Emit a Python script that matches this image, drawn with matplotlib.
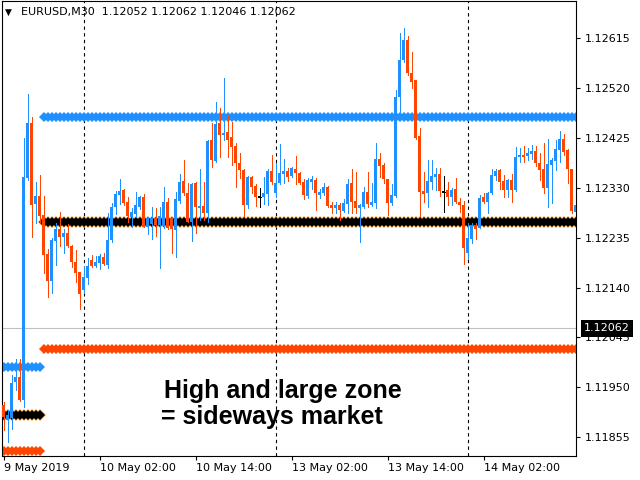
import matplotlib.pyplot as plt
import numpy as np
from matplotlib import transforms

# EURUSD M30 bars, numbered from the 10 May 00:00 bar
first_bar = -20

opens = [
    1.11917, 1.11888, 1.11892, 1.11960, 1.11970, 1.11926, 1.12349, 1.12454, 1.12299, 1.12315, 1.12278, 1.12204,
    1.12153, 1.12229, 1.12252, 1.12236, 1.12244, 1.12219, 1.12189, 1.12170, 1.12136, 1.12158, 1.12193, 1.12181,
    1.12187, 1.12198, 1.12183, 1.12231, 1.12294, 1.12317, 1.12326, 1.12303, 1.12275, 1.12280, 1.12294, 1.12313,
    1.12256, 1.12261, 1.12273, 1.12259, 1.12257, 1.12303, 1.12273, 1.12250, 1.12305, 1.12343, 1.12320, 1.12265,
    1.12339, 1.12292, 1.12296, 1.12282, 1.12421, 1.12381, 1.12454, 1.12431, 1.12437, 1.12427, 1.12410, 1.12377,
    1.12364, 1.12298, 1.12351, 1.12334, 1.12313, 1.12313, 1.12318, 1.12362, 1.12320, 1.12339, 1.12357, 1.12362,
    1.12353, 1.12366, 1.12358, 1.12341, 1.12315, 1.12341, 1.12345, 1.12317, 1.12320, 1.12332, 1.12298, 1.12292,
    1.12298, 1.12286, 1.12299, 1.12339, 1.12305, 1.12292, 1.12294, 1.12322, 1.12298, 1.12301, 1.12385, 1.12374,
    1.12347, 1.12301, 1.12315, 1.12503, 1.12574, 1.12612, 1.12549, 1.12536, 1.12429, 1.12324, 1.12320, 1.12341,
    1.12351, 1.12357, 1.12322, 1.12326, 1.12313, 1.12328, 1.12303, 1.12298, 1.12206, 1.12233, 1.12259, 1.12254,
    1.12313, 1.12303, 1.12320, 1.12353, 1.12364, 1.12343, 1.12326, 1.12345, 1.12326, 1.12389, 1.12393, 1.12391,
    1.12395, 1.12400, 1.12377, 1.12366, 1.12330, 1.12374, 1.12381, 1.12402, 1.12423, 1.12402, 1.12366, 1.12284,
]
highs = [
    1.11922, 1.11907, 1.11974, 1.12004, 1.12004, 1.12425, 1.12509, 1.12465, 1.12341, 1.12355, 1.12315, 1.12214,
    1.12235, 1.12263, 1.12284, 1.12252, 1.12261, 1.12221, 1.12212, 1.12170, 1.12179, 1.12197, 1.12202, 1.12200,
    1.12204, 1.12206, 1.12282, 1.12301, 1.12324, 1.12347, 1.12328, 1.12313, 1.12292, 1.12322, 1.12315, 1.12318,
    1.12275, 1.12294, 1.12292, 1.12294, 1.12332, 1.12311, 1.12275, 1.12322, 1.12357, 1.12383, 1.12339, 1.12339,
    1.12341, 1.12366, 1.12341, 1.12421, 1.12454, 1.12494, 1.12482, 1.12540, 1.12469, 1.12456, 1.12416, 1.12397,
    1.12366, 1.12353, 1.12353, 1.12338, 1.12330, 1.12351, 1.12366, 1.12393, 1.12377, 1.12414, 1.12385, 1.12368,
    1.12370, 1.12391, 1.12360, 1.12347, 1.12349, 1.12353, 1.12349, 1.12328, 1.12339, 1.12334, 1.12303, 1.12303,
    1.12301, 1.12309, 1.12347, 1.12366, 1.12360, 1.12299, 1.12332, 1.12360, 1.12339, 1.12416, 1.12397, 1.12377,
    1.12347, 1.12338, 1.12517, 1.12625, 1.12635, 1.12619, 1.12589, 1.12536, 1.12444, 1.12360, 1.12383, 1.12383,
    1.12368, 1.12368, 1.12353, 1.12341, 1.12330, 1.12349, 1.12311, 1.12305, 1.12263, 1.12263, 1.12263, 1.12317,
    1.12320, 1.12322, 1.12366, 1.12366, 1.12366, 1.12355, 1.12346, 1.12357, 1.12408, 1.12406, 1.12410, 1.12406,
    1.12412, 1.12410, 1.12397, 1.12416, 1.12423, 1.12387, 1.12421, 1.12439, 1.12433, 1.12404, 1.12366, 1.12301,
]
lows = [
    1.11869, 1.11846, 1.11871, 1.11945, 1.11924, 1.11913, 1.12345, 1.12236, 1.12263, 1.12263, 1.12168, 1.12122,
    1.12130, 1.12183, 1.12219, 1.12206, 1.12217, 1.12179, 1.12151, 1.12100, 1.12130, 1.12147, 1.12179, 1.12179,
    1.12176, 1.12183, 1.12177, 1.12227, 1.12280, 1.12299, 1.12298, 1.12265, 1.12256, 1.12275, 1.12290, 1.12255,
    1.12242, 1.12233, 1.12238, 1.12177, 1.12254, 1.12252, 1.12206, 1.12198, 1.12301, 1.12317, 1.12264, 1.12229,
    1.12244, 1.12269, 1.12269, 1.12265, 1.12370, 1.12379, 1.12389, 1.12421, 1.12389, 1.12374, 1.12332, 1.12349,
    1.12276, 1.12292, 1.12320, 1.12296, 1.12294, 1.12299, 1.12298, 1.12338, 1.12313, 1.12337, 1.12339, 1.12343,
    1.12351, 1.12338, 1.12337, 1.12309, 1.12311, 1.12328, 1.12288, 1.12311, 1.12317, 1.12294, 1.12282, 1.12282,
    1.12269, 1.12284, 1.12282, 1.12282, 1.12282, 1.12227, 1.12292, 1.12294, 1.12296, 1.12292, 1.12351, 1.12339,
    1.12278, 1.12298, 1.12313, 1.12471, 1.12570, 1.12545, 1.12520, 1.12423, 1.12276, 1.12303, 1.12294, 1.12328,
    1.12326, 1.12315, 1.12284, 1.12298, 1.12298, 1.12301, 1.12284, 1.12185, 1.12195, 1.12225, 1.12233, 1.12253,
    1.12301, 1.12282, 1.12319, 1.12345, 1.12328, 1.12313, 1.12313, 1.12303, 1.12324, 1.12379, 1.12379, 1.12383,
    1.12385, 1.12372, 1.12345, 1.12320, 1.12294, 1.12301, 1.12364, 1.12379, 1.12393, 1.12339, 1.12282, 1.12280,
]
closes = [
    1.11894, 1.11897, 1.11958, 1.11970, 1.11926, 1.12351, 1.12454, 1.12298, 1.12315, 1.12276, 1.12202, 1.12153,
    1.12231, 1.12252, 1.12236, 1.12244, 1.12219, 1.12189, 1.12168, 1.12128, 1.12160, 1.12181, 1.12181, 1.12189,
    1.12200, 1.12185, 1.12231, 1.12294, 1.12318, 1.12324, 1.12301, 1.12276, 1.12284, 1.12298, 1.12313, 1.12256,
    1.12273, 1.12273, 1.12259, 1.12276, 1.12303, 1.12254, 1.12252, 1.12309, 1.12341, 1.12320, 1.12265, 1.12338,
    1.12294, 1.12296, 1.12282, 1.12419, 1.12383, 1.12452, 1.12431, 1.12435, 1.12421, 1.12408, 1.12377, 1.12364,
    1.12298, 1.12351, 1.12332, 1.12313, 1.12313, 1.12320, 1.12362, 1.12341, 1.12339, 1.12358, 1.12362, 1.12351,
    1.12368, 1.12358, 1.12339, 1.12317, 1.12345, 1.12347, 1.12320, 1.12322, 1.12332, 1.12296, 1.12292, 1.12298,
    1.12288, 1.12301, 1.12338, 1.12303, 1.12292, 1.12298, 1.12322, 1.12299, 1.12303, 1.12385, 1.12372, 1.12347,
    1.12301, 1.12317, 1.12503, 1.12574, 1.12612, 1.12549, 1.12532, 1.12425, 1.12322, 1.12318, 1.12343, 1.12353,
    1.12357, 1.12324, 1.12322, 1.12313, 1.12326, 1.12303, 1.12298, 1.12216, 1.12235, 1.12259, 1.12252, 1.12311,
    1.12303, 1.12320, 1.12355, 1.12362, 1.12341, 1.12326, 1.12345, 1.12326, 1.12389, 1.12393, 1.12389, 1.12397,
    1.12400, 1.12377, 1.12364, 1.12330, 1.12376, 1.12383, 1.12404, 1.12423, 1.12399, 1.12366, 1.12286, 1.12298,
]

# zone indicator levels (two segments: before / after bar -10)
zone_from = [-20, -10]
zone_to = [-11, 123]
zone_high = [1.11989, 1.12465]
zone_mid = [1.11898, 1.12265]
zone_low = [1.11829, 1.12023]

tick_bars = [-20, 4, 28, 52, 76, 100]
tick_labels = ['9 May 2019', '10 May 02:00', '10 May 14:00',
               '13 May 02:00', '13 May 14:00', '14 May 02:00']
day_bars = [0, 48, 96]
price_ticks = [1.11855, 1.11950, 1.12045, 1.12140, 1.12235,
               1.12330, 1.12425, 1.12520, 1.12615]

bid = 1.12062
symbol = 'EURUSD,M30'
last_ohlc = ['1.12052', '1.12062', '1.12046', '1.12062']

bull = '#1E90FF'
bear = '#FF4500'

fig = plt.figure(figsize=(6.4, 4.8), dpi=100)
ax = fig.add_axes([2/640, 24/480, 574/640, 455/480])

o = np.array(opens)
h = np.array(highs)
l = np.array(lows)
c = np.array(closes)
bars = np.arange(first_bar, first_bar + len(o))
cols = np.where(c > o, bull, np.where(c < o, bear, 'black'))

# bid line and day separators
ax.axhline(bid, color='#c0c0c0', lw=0.8, zorder=1)
for d in day_bars:
    ax.axvline(d, color='black', lw=0.8, ls=(0, (3, 3)), zorder=1)

# zone lines drawn as rows of diamonds
for i in range(len(zone_from)):
    xs = np.arange(zone_from[i], zone_to[i] + 1)
    ax.plot(xs, [zone_high[i]] * len(xs), 'D', ms=5.4, mew=0, color=bull, zorder=2)
    ax.plot(xs, [zone_low[i]] * len(xs), 'D', ms=5.4, mew=0, color=bear, zorder=2)
    ax.plot(xs, [zone_mid[i]] * len(xs), 'D', ms=5.8, mew=0, color='#f0a030', zorder=2)
    ax.plot(xs, [zone_mid[i]] * len(xs), 'D', ms=5.2, mew=0, color='black', zorder=2)

# candles
ax.vlines(bars, l, h, colors=cols, lw=0.72, zorder=3, antialiased=False)
body = np.maximum(np.abs(c - o), 0.00002)
ax.bar(bars, body, bottom=np.minimum(o, c), width=0.75, color=cols, lw=0,
       zorder=3, antialiased=False)
doji = c == o
ax.hlines(o[doji], bars[doji] - 0.375, bars[doji] + 0.375, colors='black', lw=0.72,
          zorder=4, antialiased=False)

ax.set_xlim(-20.375, 123.125)
ax.set_ylim(1.11819, 1.12686)

ax.yaxis.tick_right()
ax.set_yticks(price_ticks, ['%.5f' % p for p in price_ticks])
ax.set_xticks(tick_bars, tick_labels)
for lbl in ax.get_xticklabels():
    lbl.set_ha('left')
ax.tick_params(axis='both', direction='out', length=3, width=0.8, labelsize=8, colors='black')
ax.tick_params(axis='y', pad=3)
ax.tick_params(axis='x', pad=2)
for s in ax.spines.values():
    s.set_linewidth(0.8)
    s.set_color('black')

# bid price label on the price scale
trans = transforms.blended_transform_factory(ax.transAxes, ax.transData)
ax.text(1 + 8/574, bid, '%.5f' % bid, transform=trans, color='white', fontsize=8,
        va='center', ha='left', bbox=dict(boxstyle='square,pad=0.3', fc='black', ec='none'))

# chart header
fig.text(5/640, 1 - 12/480, '\u25bc', fontsize=6.5, va='center')
fig.text(21/640, 1 - 12/480, symbol + '  ' + ' '.join(last_ohlc), fontsize=8, va='center')

# note
fig.text(164/640, 1 - 398/480, 'High and large zone', fontsize=18, fontweight='bold',
         family='Liberation Sans', va='baseline')
fig.text(161/640, 1 - 424/480, '= sideways market', fontsize=18, fontweight='bold',
         family='Liberation Sans', va='baseline')

fig.savefig('out.png', dpi=100)
